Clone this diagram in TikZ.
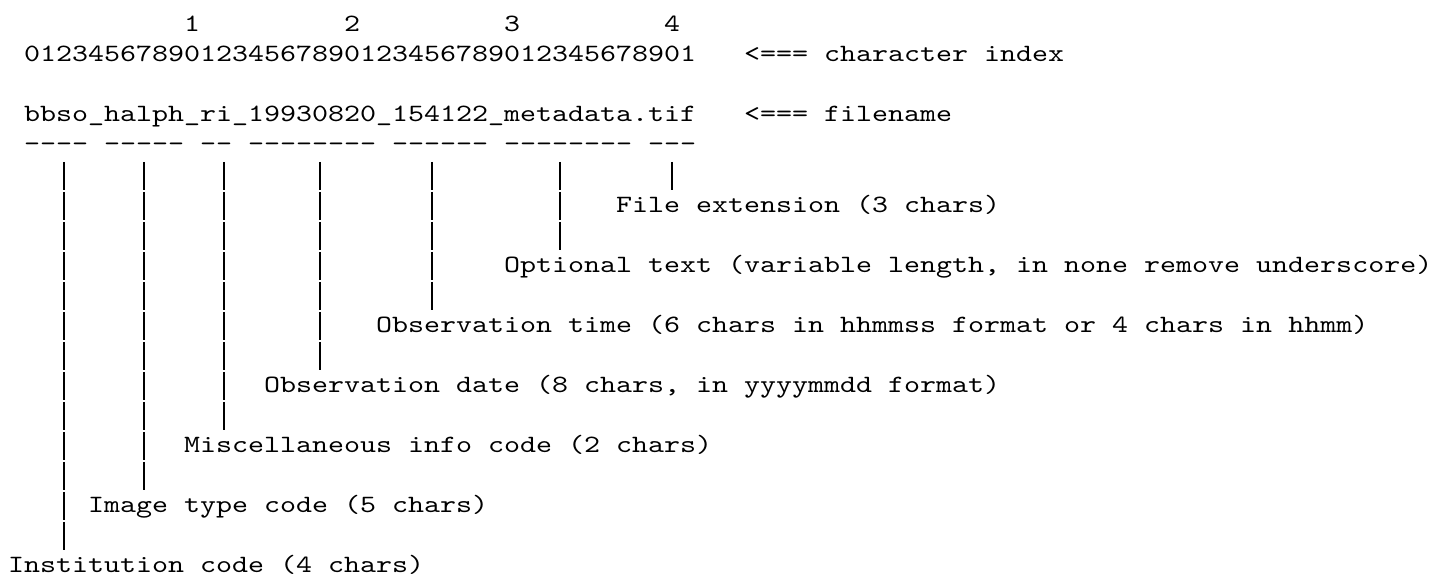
\documentclass[tikz,border=0pt]{standalone}
\usepackage{fontspec}
\usepackage{xcolor}
\newfontfamily\asciifont{lmmono10-regular.otf}[FakeStretch=1.224]

\begin{document}
\begin{tikzpicture}[
        x=16pt, y=-30pt,
        every node/.style={font=\asciifont\fontsize{24.9pt}{30pt}\selectfont, inner sep=0pt, anchor=base west, text height=20.3pt, text depth=8pt},
        bar/.style={line width=1.6pt, dash pattern=on 28.3pt off 1.7pt, dash phase=28.3pt}
    ]
    \fill[white] (0,0) rectangle (89.4375,19.2333);
    \useasboundingbox (0,0) rectangle (89.4375,19.2333);
    % ruler and file name
    \node (ten) at (11.5,1.0667) {1};
    \node (twenty) at (21.5,1.0667) {2};
    \node (thirty) at (31.5,1.0667) {3};
    \node (forty) at (41.5,1.0667) {4};
    \node (index) at (1.5,2.0667) {012345678901234567890123456789012345678901};
    \node (indexnote) at (46.5,2.0667) {<=== character index};
    \node (fname) at (1.5,4.0667) {bbso\_halph\_ri\_19930820\_154122\_metadata.tif};
    \node (fnamenote) at (46.5,4.0667) {<=== filename};
    % underlines of the fields
    \node (dInst) at (1.5,5.0667) {----};
    \node (dType) at (6.5,5.0667) {-----};
    \node (dMisc) at (12.5,5.0667) {--};
    \node (dDate) at (15.5,5.0667) {--------};
    \node (dTime) at (24.5,5.0667) {------};
    \node (dOpt) at (31.5,5.0667) {--------};
    \node (dExt) at (40.5,5.0667) {---};
    % field descriptions
    \node (lExt) at (38.5,7.0667) {File extension (3 chars)};
    \node (lOpt) at (31.5,9.0667) {Optional text (variable length, in none remove underscore)};
    \node (lTime) at (23.5,11.0667) {Observation time (6 chars in hhmmss format or 4 chars in hhmm)};
    \node (lDate) at (16.5,13.0667) {Observation date (8 chars, in yyyymmdd format)};
    \node (lMisc) at (11.5,15.0667) {Miscellaneous info code (2 chars)};
    \node (lType) at (5.5,17.0667) {Image type code (5 chars)};
    \node (lInst) at (0.5,19.0667) {Institution code (4 chars)};
    % columns of the pointers
    \coordinate (bInst) at (4,0);
    \coordinate (bType) at (9,0);
    \coordinate (bMisc) at (14,0);
    \coordinate (bDate) at (20,0);
    \coordinate (bTime) at (27,0);
    \coordinate (bOpt) at (35,0);
    \coordinate (bExt) at (42,0);
    \draw[bar] (dInst.south -| bInst) -- (lInst.north -| bInst);
    \draw[bar] (dType.south -| bType) -- (lType.north -| bType);
    \draw[bar] (dMisc.south -| bMisc) -- (lMisc.north -| bMisc);
    \draw[bar] (dDate.south -| bDate) -- (lDate.north -| bDate);
    \draw[bar] (dTime.south -| bTime) -- (lTime.north -| bTime);
    \draw[bar] (dOpt.south -| bOpt) -- (lOpt.north -| bOpt);
    \draw[bar] (dExt.south -| bExt) -- (lExt.north -| bExt);
\end{tikzpicture}
\end{document}
